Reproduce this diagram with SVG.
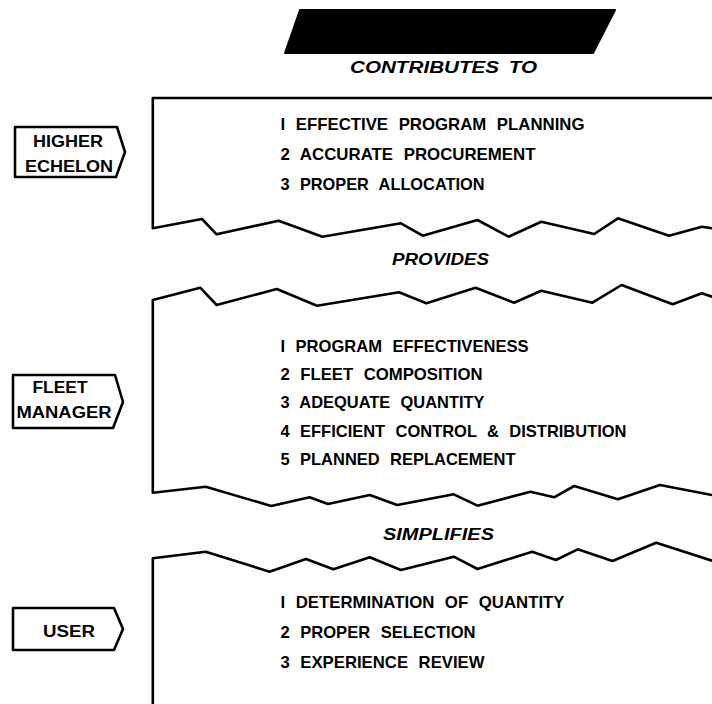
<svg xmlns="http://www.w3.org/2000/svg" width="712" height="704" viewBox="0 0 712 704">
<style>
.ln{fill:none;stroke:#000;stroke-width:2.6;stroke-linejoin:round;stroke-linecap:round}
.bx{fill:#fff;stroke:#000;stroke-width:2.6;stroke-linejoin:round}
.t{font-family:"Liberation Sans",Arial,sans-serif;font-weight:bold;font-size:17px;fill:#000;word-spacing:6px}
.h{font-family:"Liberation Sans",Arial,sans-serif;font-weight:bold;font-style:italic;font-size:16px;fill:#000;word-spacing:3px}
.lb{font-family:"Liberation Sans",Arial,sans-serif;font-weight:bold;font-size:16px;fill:#000;text-anchor:middle}
</style>
<rect width="712" height="704" fill="#fff"/>
<g id="title">
<polygon points="285,53 300,10 615,10 593,53" fill="#000" stroke="#000" stroke-width="2" stroke-linejoin="round"/>
</g>
<g id="headings">
<text class="h" x="350" y="73" textLength="187" lengthAdjust="spacingAndGlyphs">CONTRIBUTES TO</text>
<text class="h" x="392" y="265" textLength="97" lengthAdjust="spacingAndGlyphs">PROVIDES</text>
<text class="h" x="383" y="540" textLength="111" lengthAdjust="spacingAndGlyphs">SIMPLIFIES</text>
</g>
<g id="connectors">
<polyline class="ln" points="712,98 152.8,98 152.8,228.3 202,219 216.6,234.3 278.6,220.7 322.4,236.7 400.9,223.3 422.7,235.7 477.5,220 508.5,236.7 541.3,221.7 594.2,234 617.9,218.3 669,235.7 701.8,226.7 712,228.3"/>
<polyline class="ln" points="712,296.7 701.8,293.3 672.7,304.3 621.6,285 592.4,302.7 541.3,290.7 514,302.7 475.6,287.7 426.4,303.3 399,292.3 317,305.7 276.8,289 216.6,305 200.2,287.7 152.8,300 152.8,492.7 205.7,486.7 271.3,506 309.6,497.3 327.9,504 369.8,495 397.2,505 453.8,494.3 477.5,505.7 530.4,491.7 554.1,497.3 574.2,486 617.9,499.3 659.9,485 712,495"/>
<polyline class="ln" points="712,560.7 656.2,542.7 612.5,561 577.8,549.3 555.9,560 532.2,551.7 477.5,569 453.8,556.7 400.9,570 369.8,557.3 333.4,569.3 306,559 269.5,571.7 205.7,551.7 152.8,558.3 152.8,706"/>
</g>
<g id="panel-higher">
<text class="t" x="280.5" y="130" textLength="304" lengthAdjust="spacingAndGlyphs">I EFFECTIVE PROGRAM PLANNING</text>
<text class="t" x="280.5" y="160" textLength="255" lengthAdjust="spacingAndGlyphs">2 ACCURATE PROCUREMENT</text>
<text class="t" x="280.5" y="190" textLength="204" lengthAdjust="spacingAndGlyphs">3 PROPER ALLOCATION</text>
</g>
<g id="panel-fleet">
<text class="t" x="280.5" y="352" textLength="248" lengthAdjust="spacingAndGlyphs">I PROGRAM EFFECTIVENESS</text>
<text class="t" x="280.5" y="380" textLength="202" lengthAdjust="spacingAndGlyphs">2 FLEET COMPOSITION</text>
<text class="t" x="280.5" y="408" textLength="204" lengthAdjust="spacingAndGlyphs">3 ADEQUATE QUANTITY</text>
<text class="t" x="280.5" y="437" textLength="346" lengthAdjust="spacingAndGlyphs">4 EFFICIENT CONTROL &amp; DISTRIBUTION</text>
<text class="t" x="280.5" y="465" textLength="235" lengthAdjust="spacingAndGlyphs">5 PLANNED REPLACEMENT</text>
</g>
<g id="panel-user">
<text class="t" x="280.5" y="608" textLength="284" lengthAdjust="spacingAndGlyphs">I DETERMINATION OF QUANTITY</text>
<text class="t" x="280.5" y="638" textLength="195" lengthAdjust="spacingAndGlyphs">2 PROPER SELECTION</text>
<text class="t" x="280.5" y="668" textLength="204" lengthAdjust="spacingAndGlyphs">3 EXPERIENCE REVIEW</text>
</g>
<g id="label-higher-echelon">
<path class="bx" d="M15,127 L117,127 L125,152 L116,177 L15,177 Z"/>
<text class="lb" x="68" y="147" textLength="70" lengthAdjust="spacingAndGlyphs">HIGHER</text>
<text class="lb" x="69" y="172" textLength="88" lengthAdjust="spacingAndGlyphs">ECHELON</text>
</g>
<g id="label-fleet-manager">
<path class="bx" d="M13,375 L115,375 L123,402 L113,428 L13,428 Z"/>
<text class="lb" x="60" y="393" textLength="55" lengthAdjust="spacingAndGlyphs">FLEET</text>
<text class="lb" x="64" y="418" textLength="95" lengthAdjust="spacingAndGlyphs">MANAGER</text>
</g>
<g id="label-user">
<path class="bx" d="M13,608 L114,608 L123,629 L114,650 L13,650 Z"/>
<text class="lb" x="69" y="637" textLength="52" lengthAdjust="spacingAndGlyphs">USER</text>
</g>
</svg>
